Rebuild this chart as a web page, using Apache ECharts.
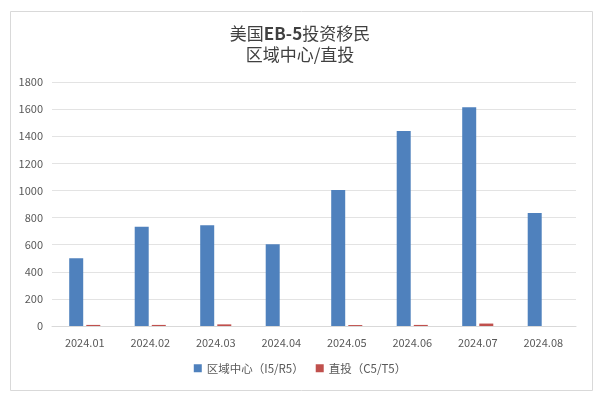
<!DOCTYPE html>
<html><head><meta charset="utf-8">
<script src="https://cdn.jsdelivr.net/npm/echarts@6/dist/echarts.min.js"></script>
<style>html,body{margin:0;padding:0;background:#fff}#c{width:600px;height:397px}</style>
</head><body><div id="c"></div>
<script>
var categories = ['2024.01','2024.02','2024.03','2024.04','2024.05','2024.06','2024.07','2024.08'];
var regionalCenter = [500, 733, 743, 603, 1003, 1438, 1613, 834];
var direct = [8, 8, 12, 0, 7, 8, 18, 0];
var seriesNames = ['区域中心（I5/R5）', '直投（C5/T5）'];
var yTicks = {min: 0, max: 1800, interval: 200};

var chart = echarts.init(document.getElementById('c'), null, {renderer: 'canvas'});
var font = '"Noto Sans CJK SC", "Noto Sans", sans-serif';
chart.setOption({
  animation: false,
  backgroundColor: '#fff',
  textStyle: {fontFamily: font},
  graphic: [{
    type: 'rect', left: 8, top: 9, shape: {width: 582, height: 379},
    style: {fill: 'none', stroke: '#d9d9d9', lineWidth: 1}, silent: true
  }],
  title: {
    text: '美国{b|EB-5}投资移民\n区域中心/直投',
    left: 'center', top: 18,
    textStyle: {fontSize: 17, fontWeight: 'normal', color: '#404040', lineHeight: 21, fontFamily: font,
      rich: {b: {fontSize: 17, fontWeight: 'bold', color: '#404040', lineHeight: 21, fontFamily: font}}}
  },
  legend: {
    bottom: 18, left: 'center', itemWidth: 8, itemHeight: 8, itemGap: 12,
    icon: 'rect',
    textStyle: {fontSize: 11.5, color: '#595959', fontFamily: font},
    data: seriesNames
  },
  grid: {left: 52, right: 24, top: 82, bottom: 71, containLabel: false},
  xAxis: {
    type: 'category', data: categories,
    axisTick: {show: false},
    axisLine: {lineStyle: {color: '#d9d9d9'}},
    axisLabel: {color: '#595959', fontSize: 11, margin: 11, fontFamily: font}
  },
  yAxis: {
    type: 'value', min: yTicks.min, max: yTicks.max, interval: yTicks.interval,
    axisLine: {show: false}, axisTick: {show: false},
    splitLine: {lineStyle: {color: '#e3e3e3'}},
    axisLabel: {color: '#595959', fontSize: 11, margin: 9, fontFamily: font,
      formatter: function (v) { return String(v); }}
  },
  series: [
    {name: seriesNames[0], type: 'bar', data: regionalCenter, barWidth: 14, barGap: '22%',
     itemStyle: {color: '#4f81bd'}},
    {name: seriesNames[1], type: 'bar', data: direct, barWidth: 14,
     itemStyle: {color: '#c0504d'}}
  ]
});
</script></body></html>
